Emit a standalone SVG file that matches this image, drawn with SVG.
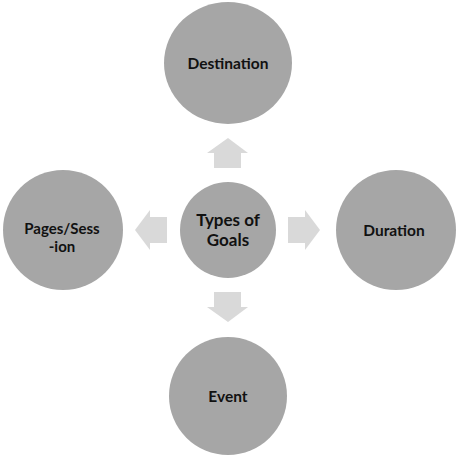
<svg xmlns="http://www.w3.org/2000/svg" width="456" height="457" viewBox="0 0 456 457">
<style>
.n{fill:#a6a6a6}
.a{fill:#d9d9d9}
text{font-family:Lato,"Open Sans",sans-serif;font-weight:bold;font-size:15.5px;fill:#111;text-anchor:middle}
</style>
<rect width="456" height="457" fill="#fff"/>
<g id="connectors">
<polygon class="a" points="228,138 248,153 241,153 241,168 214,168 214,153 207,153"/>
<polygon class="a" points="228,322 248,307 241,307 241,292 214,292 214,307 207,307"/>
<polygon class="a" points="135,230 150,210 150,217 167,217 167,243 150,243 150,250"/>
<polygon class="a" points="320,230 305,210 305,217 288,217 288,243 305,243 305,250"/>
</g>
<g id="center"><circle class="n" cx="228" cy="230" r="48"/><text x="228" y="226" style="font-size:17px">Types of</text><text x="228" y="246" style="font-size:17px">Goals</text></g>
<g id="destination"><ellipse class="n" cx="228" cy="63" rx="64" ry="61"/><text x="228" y="69">Destination</text></g>
<g id="pages"><circle class="n" cx="63" cy="230" r="60"/><text x="62" y="234" style="font-size:15px">Pages/Sess</text><text x="62" y="252" style="font-size:15px">-ion</text></g>
<g id="duration"><circle class="n" cx="396" cy="230" r="60"/><text x="394" y="236">Duration</text></g>
<g id="event"><circle class="n" cx="228" cy="396" r="59"/><text x="228" y="402">Event</text></g>
</svg>
